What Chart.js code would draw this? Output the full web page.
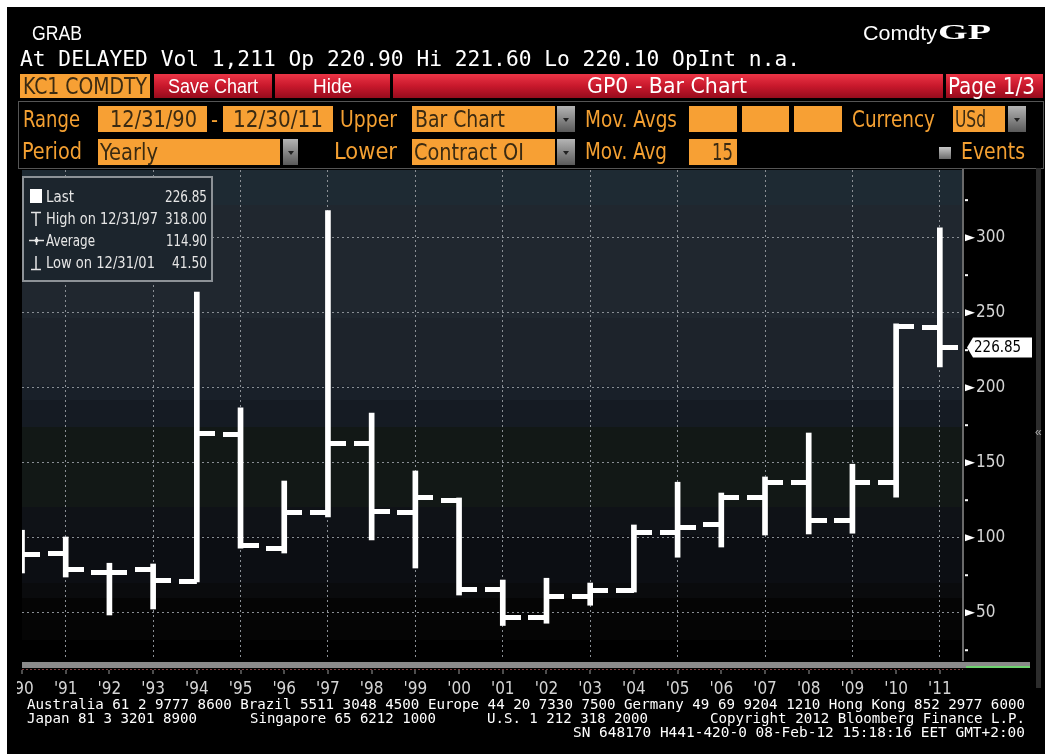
<!DOCTYPE html>
<html><head><meta charset="utf-8">
<script src="https://cdn.jsdelivr.net/npm/chart.js@4.4.1/dist/chart.umd.min.js"></script>
<style>
html,body{margin:0;padding:0;background:#fff;width:1045px;height:754px;overflow:hidden}
#bg{position:absolute;left:7px;top:7px;width:1038px;height:747px;background:#000}
.t{position:absolute;white-space:nowrap;line-height:1;font-family:"Liberation Sans",Arial,sans-serif;transform-origin:left top;z-index:3}
.o{color:#f4a032;font-size:23px}
.bx{color:#3a2a12;font-size:23px}
.w{color:#fff}
.box{position:absolute;background:#f7a034;z-index:2}
.red{position:absolute;background:linear-gradient(#ec3546,#c8182c 50%,#960c1d);z-index:2}
.dd{position:absolute;background:linear-gradient(#b4b4b4,#5a5a5a);z-index:2}
.dd:after{content:"";position:absolute;left:50%;top:50%;margin-left:-3px;margin-top:-1px;border-left:3px solid transparent;border-right:3px solid transparent;border-top:4px solid #222}
.mono{font-family:"DejaVu Sans Mono","Liberation Mono",monospace}
.nar{font-family:"Liberation Sans Narrow","DejaVu Sans Condensed","Roboto Condensed","Liberation Sans",sans-serif}
#chart{position:absolute;left:17px;top:0;z-index:1}
#legend{position:absolute;left:22px;top:176px;width:187px;height:102px;border:2px solid #8d9297;background:#1c252d;z-index:2}
.lg{color:#e6e6e6;font-size:16px}
</style></head>
<body>
<div id="bg"></div>

<!-- header row 1 -->
<div class="t w" style="left:32px;top:23px;font-size:20px" data-w="50">GRAB</div>
<div class="t w" style="left:863px;top:23px;font-size:20px" data-w="74">Comdty</div>
<div class="t w" style="left:938px;top:22px;font-size:21px;font-weight:bold;font-family:'Liberation Serif','DejaVu Serif',serif" data-w="53">GP</div>
<!-- row 2 -->
<div class="t w mono" style="left:20px;top:49px;font-size:21px" data-w="780">At DELAYED Vol 1,211 Op 220.90 Hi 221.60 Lo 220.10 OpInt n.a.</div>
<!-- row 3 -->
<div class="box" style="left:20px;top:74px;width:130px;height:24px"></div>
<div class="t bx nar" style="left:23px;top:75px;font-size:23px" data-w="124">KC1 COMDTY</div>
<div class="red" style="left:154px;top:74px;width:118px;height:24px"></div>
<div class="t w" style="left:168px;top:76px;font-size:20px" data-w="90">Save Chart</div>
<div class="red" style="left:275px;top:74px;width:115px;height:24px"></div>
<div class="t w" style="left:313px;top:76px;font-size:20px" data-w="39">Hide</div>
<div class="red" style="left:393px;top:74px;width:550px;height:24px"></div>
<div class="t w nar" style="left:587px;top:75px;font-size:22px" data-w="160">GP0 - Bar Chart</div>
<div class="red" style="left:946px;top:74px;width:97px;height:24px"></div>
<div class="t w nar" style="left:948px;top:75px;font-size:23px" data-w="87">Page 1/3</div>
<!-- panel -->
<div style="position:absolute;left:18px;top:101px;width:1024px;height:66px;border:1px solid #555;z-index:2"></div>
<!-- row 4 -->
<div class="t o nar" style="left:23px;top:108px" data-w="57">Range</div>
<div class="box" style="left:98px;top:106px;width:109px;height:26px"></div>
<div class="t bx nar" style="left:110px;top:108px" data-w="87">12/31/90</div>
<div class="t o nar" style="left:211px;top:108px" data-w="7">-</div>
<div class="box" style="left:223px;top:106px;width:110px;height:26px"></div>
<div class="t bx nar" style="left:233px;top:108px" data-w="90">12/30/11</div>
<div class="t o nar" style="left:340px;top:108px" data-w="57">Upper</div>
<div class="box" style="left:412px;top:106px;width:143px;height:26px"></div>
<div class="t bx nar" style="left:415px;top:108px" data-w="90">Bar Chart</div>
<div class="dd" style="left:557px;top:106px;width:18px;height:26px"></div>
<div class="t o nar" style="left:585px;top:108px" data-w="92">Mov. Avgs</div>
<div class="box" style="left:689px;top:106px;width:48px;height:26px"></div>
<div class="box" style="left:742px;top:106px;width:47px;height:26px"></div>
<div class="box" style="left:794px;top:106px;width:48px;height:26px"></div>
<div class="t o nar" style="left:852px;top:108px" data-w="83">Currency</div>
<div class="box" style="left:953px;top:106px;width:52px;height:26px"></div>
<div class="t bx nar" style="left:955px;top:108px" data-w="31">USd</div>
<div class="dd" style="left:1008px;top:106px;width:18px;height:26px"></div>
<!-- row 5 -->
<div class="t o nar" style="left:22px;top:140px" data-w="60">Period</div>
<div class="box" style="left:98px;top:139px;width:182px;height:26px"></div>
<div class="t bx nar" style="left:100px;top:141px" data-w="58">Yearly</div>
<div class="dd" style="left:283px;top:139px;width:15px;height:26px"></div>
<div class="t o nar" style="left:334px;top:140px" data-w="63">Lower</div>
<div class="box" style="left:412px;top:139px;width:143px;height:26px"></div>
<div class="t bx nar" style="left:414px;top:141px" data-w="110">Contract OI</div>
<div class="dd" style="left:557px;top:139px;width:18px;height:26px"></div>
<div class="t o nar" style="left:585px;top:140px" data-w="82">Mov. Avg</div>
<div class="box" style="left:689px;top:139px;width:48px;height:26px"></div>
<div class="t bx nar" style="left:712px;top:141px" data-w="21">15</div>
<div style="position:absolute;left:939px;top:147px;width:12px;height:12px;background:linear-gradient(#c8c8c8,#6c6c6c);z-index:2"></div>
<div class="t o nar" style="left:961px;top:140px" data-w="64">Events</div>

<canvas id="chart" width="1028" height="754"></canvas>

<!-- legend -->
<div id="legend"></div>
<div style="position:absolute;left:30px;top:189px;width:12px;height:14px;background:#fff;z-index:3"></div>
<div class="t lg nar" style="left:46px;top:189px" data-w="28">Last</div>
<div class="t lg nar" style="left:165px;top:189px" data-w="42">226.85</div>
<svg style="position:absolute;left:30px;top:211px;z-index:3" width="12" height="16"><path d="M1 1.5H11M6 1.5V15" stroke="#e6e6e6" stroke-width="1.5" fill="none"/></svg>
<div class="t lg nar" style="left:46px;top:211px" data-w="112">High on 12/31/97</div>
<div class="t lg nar" style="left:165px;top:211px" data-w="42">318.00</div>
<svg style="position:absolute;left:29px;top:235px;z-index:3" width="16" height="12"><path d="M0 5.5H15M7.5 2V10" stroke="#e6e6e6" stroke-width="1.5" fill="none"/><circle cx="7.5" cy="5.5" r="2" fill="#e6e6e6"/></svg>
<div class="t lg nar" style="left:46px;top:233px" data-w="49">Average</div>
<div class="t lg nar" style="left:166px;top:233px" data-w="41">114.90</div>
<svg style="position:absolute;left:30px;top:255px;z-index:3" width="12" height="16"><path d="M1 14.5H11M6 1V14.5" stroke="#e6e6e6" stroke-width="1.5" fill="none"/></svg>
<div class="t lg nar" style="left:46px;top:255px" data-w="109">Low on 12/31/01</div>
<div class="t lg nar" style="left:172px;top:255px" data-w="35">41.50</div>

<!-- right edge -->
<div style="position:absolute;left:1036px;top:168px;width:5px;height:520px;background:#2c2c2c;z-index:2"></div>
<div class="t" style="left:1035px;top:426px;font-size:12px;color:#aaa">«</div>

<!-- footer -->
<div class="t w mono" style="left:27px;top:697px;font-size:14px" data-w="998">Australia 61 2 9777 8600 Brazil 5511 3048 4500 Europe 44 20 7330 7500 Germany 49 69 9204 1210 Hong Kong 852 2977 6000</div>
<div class="t w mono" style="left:27px;top:711px;font-size:14px" data-w="170">Japan 81 3 3201 8900</div>
<div class="t w mono" style="left:250px;top:711px;font-size:14px" data-w="186">Singapore 65 6212 1000</div>
<div class="t w mono" style="left:487px;top:711px;font-size:14px" data-w="161">U.S. 1 212 318 2000</div>
<div class="t w mono" style="left:710px;top:711px;font-size:14px" data-w="315">Copyright 2012 Bloomberg Finance L.P.</div>
<div class="t w mono" style="left:573px;top:725px;font-size:14px" data-w="452">SN 648170 H441-420-0 08-Feb-12 15:18:16 EET  GMT+2:00</div>

<script>
// ---- data ----
const years  = [1990,1991,1992,1993,1994,1995,1996,1997,1998,1999,2000,2001,2002,2003,2004,2005,2006,2007,2008,2009,2010,2011];
const opens  = [ 80.0, 89.8, 77.0, 78.5, 71.0,168.5, 92.5,116.5,162.5,117.0,124.5, 65.8, 46.5, 60.5, 65.0,103.8,108.5,126.5,136.5,111.8,136.5,239.8];
const highs  = [105.0,100.5, 83.0, 82.5,263.8,186.5,137.8,318.0,183.0,144.5,126.5, 71.8, 73.0, 69.8,108.5,137.0,129.8,140.5,169.8,149.0,242.5,306.5];
const lows   = [ 76.5, 73.8, 48.5, 52.5, 70.5, 93.0, 89.8,113.8, 98.5, 79.8, 61.8, 41.5, 43.0, 55.0, 63.8, 87.0, 93.8,101.8,102.5,103.0,127.0,213.8];
const closes = [ 89.1, 78.5, 77.0, 71.8,169.8, 95.1,117.1,162.5,117.8,126.5, 65.8, 46.5, 60.5, 65.0,103.8,107.0,126.5,136.5,111.8,136.5,241.0,226.85];
const yTicks = [25,50,75,100,125,150,175,200,225,250,275,300,325];
const yLabelTicks = [50,100,150,200,250,300];
const gridYears = [1991,1993,1995,1997,1999,2001,2003,2005,2007,2009,2011];
const lastLabel = '226.85';

const NARROW = "'Liberation Sans Narrow','DejaVu Sans Condensed','Roboto Condensed','Liberation Sans',sans-serif";
const GRID = '#8a8f95';

function tickImg(side){
  const c=document.createElement('canvas'); c.width=36; c.height=5;
  const g=c.getContext('2d'); g.fillStyle='#fff';
  if(side<0) g.fillRect(0,0,18,5); else g.fillRect(18,0,18,5);
  return c;
}

const bands = [[0,'#1e2a33'],[35,'#20272f'],[148,'#1d232b'],[215,'#192029'],[230,'#151b23'],[257,'#121816'],[337,'#0f1217'],[365,'#0c0e13'],[413,'#0a0b0d'],[428,'#050505'],[470,'#000']];

const deco = {
  id:'deco',
  beforeDraw(chart){
    const {ctx, chartArea:a} = chart;
    ctx.save();
    for(let i=0;i<bands.length;i++){
      const y0=a.top+bands[i][0];
      const y1= i+1<bands.length ? a.top+bands[i+1][0] : a.bottom;
      ctx.fillStyle=bands[i][1];
      ctx.fillRect(a.left,y0,a.right-a.left,Math.min(y1,a.bottom)-y0);
    }
    ctx.restore();
  },
  afterDraw(chart){
    const {ctx, chartArea:a, scales:{x,y}} = chart;
    ctx.save();
    y.ticks.forEach(t=>{
      const py=y.getPixelForValue(t.value);
      ctx.fillStyle='#fff';
      if(yLabelTicks.includes(t.value)){
        ctx.beginPath(); ctx.moveTo(a.right+2,py-3.5); ctx.lineTo(a.right+12,py); ctx.lineTo(a.right+2,py+3.5); ctx.closePath(); ctx.fill();
      } else {
        ctx.fillRect(a.right+2,py-1,3,2);
      }
    });
    const right = 1030-17;
    ctx.fillStyle='#8a8a8a'; ctx.fillRect(a.left,a.bottom+2,right-a.left,6);
    ctx.strokeStyle='#7a3b3b'; ctx.setLineDash([2,2]); ctx.lineWidth=1;
    ctx.beginPath(); ctx.moveTo(a.left,a.bottom+9.5); ctx.lineTo(a.right,a.bottom+9.5); ctx.stroke();
    ctx.setLineDash([]);
    ctx.fillStyle='#6fd36f'; ctx.fillRect(a.right+3,a.bottom+6,right-a.right-3,2);
    ctx.fillStyle='#999';
    years.forEach(v=>{ const px=x.getPixelForValue(v); ctx.fillRect(Math.round(px)-0.5,a.bottom+10,1,4); });
    const py=y.getPixelForValue(closes[closes.length-1]);
    ctx.fillStyle='#fff';
    ctx.beginPath(); ctx.moveTo(a.right+4,py); ctx.lineTo(a.right+10,py-10); ctx.lineTo(a.right+69,py-10); ctx.lineTo(a.right+69,py+10); ctx.lineTo(a.right+10,py+10); ctx.closePath(); ctx.fill();
    ctx.fillStyle='#000'; ctx.font='15px '+NARROW; ctx.textBaseline='middle'; ctx.textAlign='left';
    ctx.fillText(lastLabel,a.right+11,py+1);
    ctx.restore();
  }
};

const openPts  = years.map((v,i)=>({x:v,y:opens[i]}));
const closePts = years.map((v,i)=>({x:v,y:closes[i]}));
const hl       = years.map((v,i)=>({x:v,y:[lows[i],highs[i]]}));

new Chart(document.getElementById('chart'),{
  type:'bar',
  data:{datasets:[
    {type:'bar',data:hl,backgroundColor:'#fff',borderWidth:0,barThickness:5,clip:0,order:2},
    {type:'line',data:openPts,showLine:false,pointStyle:tickImg(-1),pointRadius:3,pointHoverRadius:3,clip:0,order:1},
    {type:'line',data:closePts,showLine:false,pointStyle:tickImg(1),pointRadius:3,pointHoverRadius:3,clip:0,order:1}
  ]},
  options:{
    responsive:false,animation:false,devicePixelRatio:1,
    events:[],
    layout:{padding:{left:5,top:170,right:0,bottom:0}},
    plugins:{legend:{display:false},tooltip:{enabled:false}},
    scales:{
      x:{type:'linear',min:years[0],max:2011.53,offset:false,
        afterBuildTicks(s){ s.ticks = years.map(v=>({value:v})); },
        afterFit(s){ s.height=94; s.paddingLeft=0; s.paddingRight=0; },
        ticks:{autoSkip:false,maxRotation:0,padding:19,color:'#d4d4d4',font:{family:NARROW,size:17},
          callback:v=>"'"+String(v).slice(2)},
        grid:{offset:false,drawTicks:false,lineWidth:1,color:c=>(c.tick && gridYears.includes(c.tick.value))?GRID:'rgba(0,0,0,0)'},
        border:{display:false,dash:[2,3]}
      },
      y:{type:'linear',position:'right',min:18.5,max:345.1,
        afterBuildTicks(s){ s.ticks = yTicks.map(v=>({value:v})); },
        afterFit(s){ s.width=82; s.paddingTop=0; s.paddingBottom=0; },
        ticks:{autoSkip:false,padding:13,color:'#d4d4d4',font:{family:NARROW,size:17},
          callback:v=>(yLabelTicks.includes(v)?String(v):'')},
        grid:{offset:false,drawTicks:false,lineWidth:1,color:c=>(c.tick && yLabelTicks.includes(c.tick.value))?GRID:'rgba(0,0,0,0)'},
        border:{display:true,color:'#6a6a6a',width:2,dash:[2,3]}
      }
    }
  },
  plugins:[deco]
});

function fit(){
  document.querySelectorAll('[data-w]').forEach(el=>{
    el.style.transform='';
    const w=+el.dataset.w, a=el.getBoundingClientRect().width;
    if(a>0) el.style.transform='scaleX('+(w/a)+')';
  });
}
fit();
if(document.fonts && document.fonts.ready) document.fonts.ready.then(fit);
</script>
</body></html>
